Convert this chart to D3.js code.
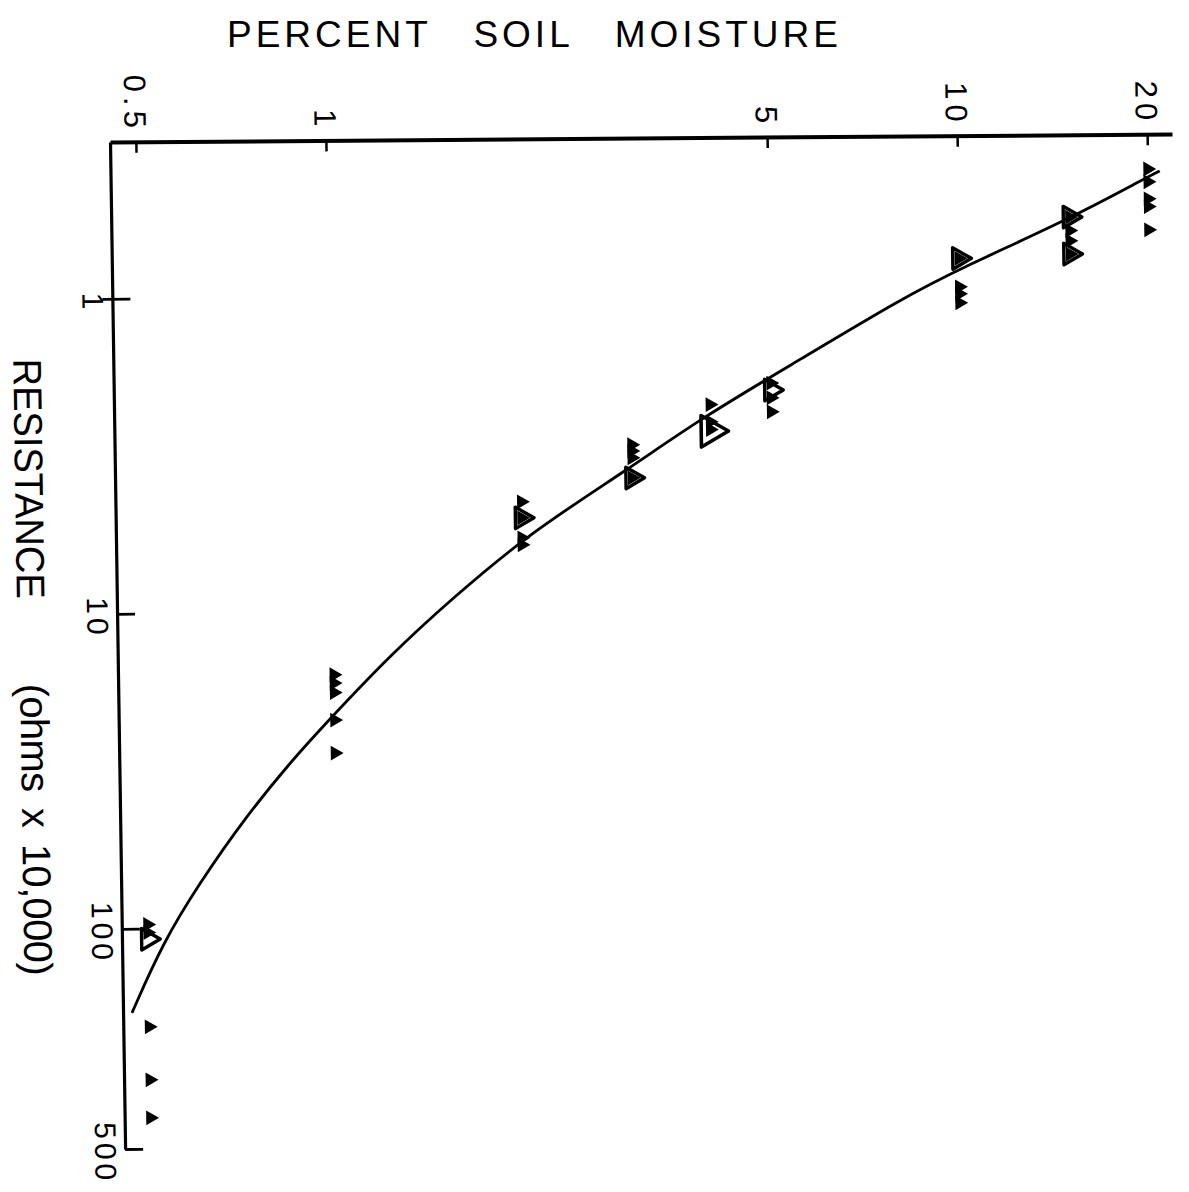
<!DOCTYPE html>
<html>
<head>
<meta charset="utf-8">
<script src="https://cdn.jsdelivr.net/npm/d3@7"></script>
<style>
  html, body { margin: 0; padding: 0; background: #fff; }
  svg { display: block; }
  text { font-family: "Liberation Sans", Arial, sans-serif; fill: #000; }
</style>
</head>
<body>
<svg id="chart" width="1189" height="1192"></svg>
<script>
// Percent soil moisture (horizontal, log) against resistance in ohms x 10,000 (vertical, log)
const moistureTicks = [0.5, 1, 5, 10, 20];
const moistureTickLabels = ["0.5", "1", "5", "10", "20"];
const resistanceTicks = [1, 10, 100, 500];
const resistanceTickLabels = ["1", "10", "100", "500"];

// individual readings: [percent moisture, resistance]
const solidPoints = [
  [20, 0.41], [20, 0.45], [20, 0.51], [20, 0.54], [20, 0.64],
  [15, 0.58], [15, 0.64], [15, 0.69], [15, 0.76],
  [10, 0.78], [10, 0.96], [10, 1.01], [10, 1.08],
  [5, 1.92], [5, 2.14], [5, 2.37],
  [4, 2.24], [4, 2.54], [4, 2.69],
  [3, 2.99], [3, 3.13], [3, 3.29], [3, 3.81],
  [2, 4.51], [2, 5.07], [2, 5.87], [2, 6.18],
  [1, 15.8], [1, 16.8], [1, 18.0], [1, 22.0], [1, 28.0],
  [0.5, 97], [0.5, 103], [0.5, 205], [0.5, 302], [0.5, 399]
];

// mean readings
const openPoints = [
  [15, 0.58], [15, 0.76], [10, 0.78], [5, 2.02],
  [3, 3.81], [2, 5.07], [0.5, 108]
];
const largeOpenPoints = [[4, 2.72]];

// fitted calibration curve
const fitCurve = [
  [20.9, 0.416], [19.9, 0.437], [14.9, 0.592], [10.1, 0.835], [8.05, 1.05],
  [5.57, 1.62], [3.90, 2.45], [2.95, 3.59], [2.06, 5.66], [1.55, 9.07],
  [1.23, 13.7], [0.947, 23.6], [0.848, 30.0], [0.717, 44.8], [0.606, 71.8],
  [0.528, 111], [0.47, 185]
];

const svg = d3.select("#chart");

// axis title across the top
svg.append("text")
  .attr("x", 227).attr("y", 47)
  .attr("font-size", 37)
  .attr("letter-spacing", 4)
  .attr("word-spacing", 28)
  .text("PERCENT SOIL MOISTURE");

// plot frame, sheared slightly like the drafted original
const g = svg.append("g")
  .attr("transform", "matrix(1,-0.0075,0.015,1,110,142)");

// rotated title along the left, sharing the shear of the frame
g.append("text")
  .attr("transform", "translate(-100,216) rotate(90)")
  .attr("font-size", 40)
  .attr("textLength", 240)
  .attr("lengthAdjust", "spacingAndGlyphs")
  .text("RESISTANCE");
g.append("text")
  .attr("transform", "translate(-98,541) rotate(90)")
  .attr("font-size", 40)
  .attr("word-spacing", 6)
  .attr("textLength", 292)
  .attr("lengthAdjust", "spacing")
  .text("(ohms x 10,000)");

const x = d3.scaleLog().domain([0.455, 21.9]).range([0, 1062]);
const y = d3.scaleLog().domain([0.318, 500]).range([0, 1007]);

const topAxis = d3.axisTop(x)
  .tickValues(moistureTicks)
  .tickSizeInner(-11)
  .tickSizeOuter(0)
  .tickFormat("");
const gTop = g.append("g").call(topAxis);
gTop.select(".domain").attr("stroke-width", 4).attr("stroke", "#000");
gTop.selectAll(".tick line").attr("stroke-width", 2.5);

const leftAxis = d3.axisLeft(y)
  .tickValues(resistanceTicks)
  .tickSizeInner(-18)
  .tickSizeOuter(0)
  .tickFormat("");
const gLeft = g.append("g").call(leftAxis);
gLeft.select(".domain").attr("stroke-width", 3.2).attr("stroke", "#000");
gLeft.selectAll(".tick line").attr("stroke-width", 2.8);
// the "1" tick crosses the axis
gLeft.selectAll(".tick").filter(d => d === 1).select("line")
  .attr("x1", -10);

// tick labels, turned with the rest of the sheet
g.selectAll(".mlabel")
  .data(moistureTicks)
  .join("text")
  .attr("class", "mlabel")
  .attr("transform", d => `translate(${x(d)},-9) rotate(90)`)
  .attr("text-anchor", "end")
  .attr("dy", "0.36em")
  .attr("font-size", 31)
  .attr("letter-spacing", 5)
  .text((d, i) => moistureTickLabels[i]);

g.selectAll(".rlabel")
  .data(resistanceTicks)
  .join("text")
  .attr("class", "rlabel")
  .attr("transform", d => `translate(-30,${y(d) + 4}) rotate(90)`)
  .attr("text-anchor", "middle")
  .attr("font-size", 30)
  .attr("letter-spacing", 4)
  .text((d, i) => resistanceTickLabels[i]);

// fitted curve
const line = d3.line()
  .x(d => x(d[0]))
  .y(d => y(d[1]))
  .curve(d3.curveBasis);
g.append("path")
  .datum(fitCurve)
  .attr("d", line)
  .attr("fill", "none")
  .attr("stroke", "#000")
  .attr("stroke-width", 2.8);

// triangles point along the moisture axis
const tri = s => d3.symbol().type(d3.symbolTriangle).size(s)();

g.selectAll(".solid")
  .data(solidPoints)
  .join("path")
  .attr("class", "solid")
  .attr("d", tri(95))
  .attr("transform", d => `translate(${x(d[0])},${y(d[1])}) rotate(90)`)
  .attr("fill", "#000");

g.selectAll(".open")
  .data(openPoints)
  .join("path")
  .attr("class", "open")
  .attr("d", tri(200))
  .attr("transform", d => `translate(${x(d[0])},${y(d[1])}) rotate(90)`)
  .attr("fill", "none")
  .attr("stroke", "#000")
  .attr("stroke-width", 3.4)
  .attr("stroke-linejoin", "round");

g.selectAll(".openLarge")
  .data(largeOpenPoints)
  .join("path")
  .attr("class", "openLarge")
  .attr("d", tri(430))
  .attr("transform", d => `translate(${x(d[0])},${y(d[1])}) rotate(90)`)
  .attr("fill", "none")
  .attr("stroke", "#000")
  .attr("stroke-width", 3.6)
  .attr("stroke-linejoin", "round");
</script>
</body>
</html>
